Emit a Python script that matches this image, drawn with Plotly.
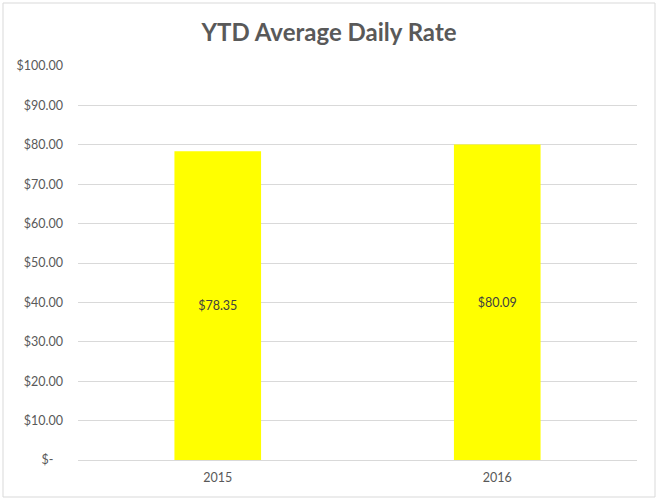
import plotly.graph_objects as go

categories = ["2015", "2016"]
values = [78.35, 80.09]
value_labels = ["$78.35", "$80.09"]
tick_vals = [0, 10, 20, 30, 40, 50, 60, 70, 80, 90, 100]
tick_text = ["$-\u00a0\u00a0\u00a0", "$10.00", "$20.00", "$30.00", "$40.00", "$50.00",
             "$60.00", "$70.00", "$80.00", "$90.00", "$100.00"]

FONT = "Lato"

fig = go.Figure(go.Bar(
    x=categories, y=values, width=0.31,
    marker=dict(color="#FFFF00", line=dict(width=0)),
    text=value_labels, textposition="inside", insidetextanchor="middle",
    textfont=dict(family=FONT, size=12.5, color="#404040"),
    hoverinfo="skip",
))

fig.update_layout(
    width=658, height=500,
    margin=dict(l=78, r=21, t=66, b=40),
    paper_bgcolor="white", plot_bgcolor="white",
    showlegend=False,
    title=dict(text="<b>YTD Average Daily Rate</b>", x=0.5, xanchor="center",
               y=1 - 33 / 500, yanchor="middle",
               font=dict(family=FONT, size=24, color="#595959")),
    xaxis=dict(type="category", showgrid=False, showline=True, linecolor="#D9D9D9",
               linewidth=1, ticks="", tickfont=dict(family=FONT, size=12.5, color="#595959"),
               ticklabelstandoff=6, zeroline=False),
    yaxis=dict(range=[0, 100], tickvals=tick_vals, ticktext=tick_text,
               showgrid=True, gridcolor="#D9D9D9", gridwidth=1, zeroline=False,
               showline=False, ticks="",
               tickfont=dict(family=FONT, size=12.5, color="#595959"),
               ticklabelstandoff=14),
    shapes=[dict(type="rect", xref="paper", yref="paper",
                 x0=-75 / 559, x1=1 + 18 / 559, y0=-37 / 394, y1=1 + 63 / 394,
                 line=dict(color="#D9D9D9", width=1), fillcolor="rgba(0,0,0,0)")],
)

fig.write_html("out.html", config={"displayModeBar": False},
               post_script="document.body.style.margin='0';")
